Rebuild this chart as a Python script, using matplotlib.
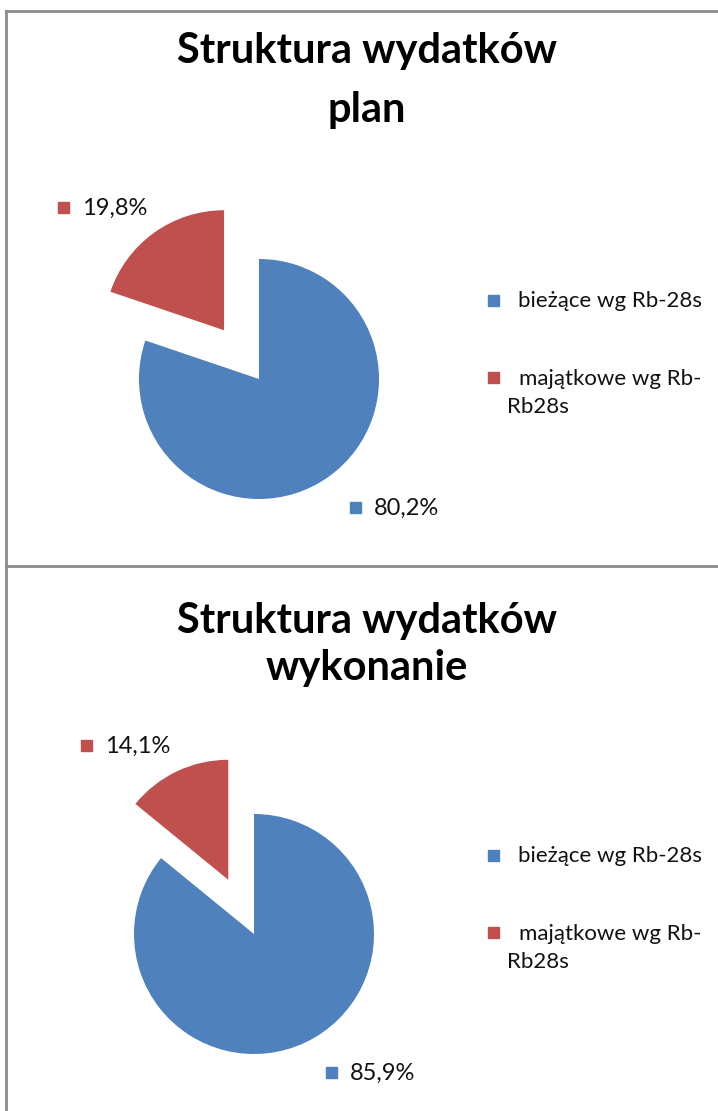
import matplotlib.pyplot as plt
from matplotlib.patches import Rectangle
from matplotlib.lines import Line2D

# Dane: struktura wydatków (plan i wykonanie)
kategorie = ['bieżące wg Rb-28s', 'majątkowe wg Rb-', 'Rb28s']
plan = [80.2, 19.8]
wykonanie = [85.9, 14.1]
etykiety_plan = ['80,2%', '19,8%']
etykiety_wyk = ['85,9%', '14,1%']
tytul = 'Struktura wydatków'
podtytuly = ['plan', 'wykonanie']
kolory = ['#4F81BD', '#C0504D']

W, H = 718, 1111
fig = plt.figure(figsize=(W / 100, H / 100), dpi=100)
fig.patch.set_facecolor('white')
FONT = 'Lato'


def px(x, y):
    return x / W, 1 - y / H


def kwadrat(x, y, kolor, s=11):
    fx, fy = px(x - s / 2, y + s / 2)
    fig.patches.append(Rectangle((fx, fy), s / W, s / H, color=kolor,
                                 transform=fig.transFigure, figure=fig))


def panel(dane, etyk, podtytul, t1, t2, cx, cy, lab_pos, leg_y):
    # tytuł (dwie linie)
    fig.text(*px(367, t1), tytul, ha='center', va='baseline', fontsize=30,
             fontweight='bold', family=FONT)
    fig.text(*px(367, t2), podtytul, ha='center', va='baseline', fontsize=30,
             fontweight='bold', family=FONT)
    # wykres kołowy
    r = 120
    ax = fig.add_axes([(cx - 2 * r) / W, (H - cy - 2 * r) / H, 4 * r / W, 4 * r / H])
    ax.pie(dane, colors=kolory, startangle=90, counterclock=False,
           explode=[0, 0.5], radius=1, wedgeprops=dict(linewidth=0))
    ax.set_xlim(-2, 2)
    ax.set_ylim(-2, 2)
    ax.axis('off')
    # etykiety danych
    for (lx, ly), txt, kol in zip(lab_pos, etyk, kolory):
        kwadrat(lx, ly, kol)
        fig.text(*px(lx + 19, ly + 8), txt, ha='left', va='baseline', fontsize=17,
                 family=FONT, color='#111111')
    # legenda
    kwadrat(493, leg_y, kolory[0])
    fig.text(*px(518, leg_y + 7), kategorie[0], ha='left', va='baseline',
             fontsize=16, family=FONT, color='#111111')
    kwadrat(493, leg_y + 77, kolory[1])
    fig.text(*px(519, leg_y + 85), kategorie[1], ha='left', va='baseline',
             fontsize=16, family=FONT, color='#111111')
    fig.text(*px(507, leg_y + 113), kategorie[2], ha='left', va='baseline',
             fontsize=16, family=FONT, color='#111111')


panel(plan, etykiety_plan, podtytuly[0], 63, 122, 259, 379,
      [(355, 507), (63, 207)], 300)
panel(wykonanie, etykiety_wyk, podtytuly[1], 633, 680, 254, 934,
      [(331, 1072), (86, 745)], 855)

# ramki
szary = '#8c8c8c'
for xs, ys in [((6, W), (11, 11)), ((6, 6), (11, H)), ((6, W), (566, 566))]:
    (x1, y1), (x2, y2) = px(xs[0], ys[0]), px(xs[1], ys[1])
    fig.lines.append(Line2D([x1, x2], [y1, y2], color=szary, linewidth=2,
                            transform=fig.transFigure, figure=fig))

fig.savefig('out.png', dpi=100)
